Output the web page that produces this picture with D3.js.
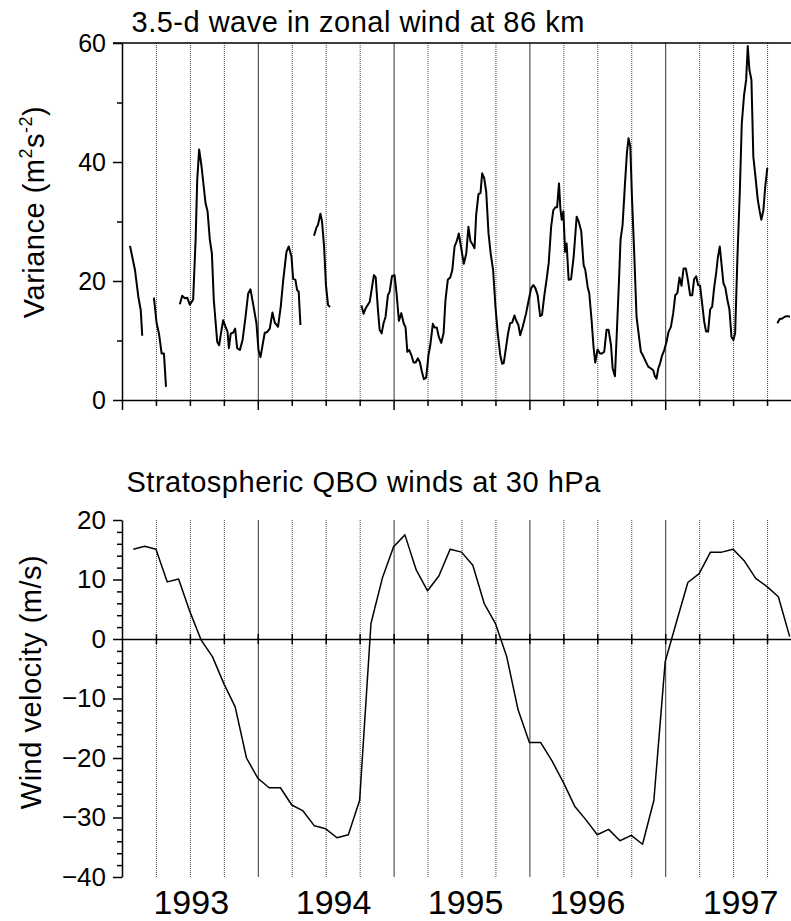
<!DOCTYPE html>
<html>
<head>
<meta charset="utf-8">
<script src="https://cdn.jsdelivr.net/npm/d3@7"></script>
<style>
  body { margin: 0; background: #fff; }
  svg { display: block; font-family: "Liberation Sans", Arial, sans-serif; }
</style>
</head>
<body>
<script>
// time is in years after 1 Jan 1993
// 3.5-day wave variance (m^2 s^-2), one array per data segment
var waveSeg1 = [[0.059,25.9],[0.096,21.8],[0.120,17.4],[0.138,15.1],[0.149,10.8]];
var waveSeg2 = [[0.235,17.2],[0.255,12.9],[0.272,11.2],[0.292,7.8],[0.309,7.8],[0.324,2.2]];
var waveSeg3 = [
  [0.426,16.1],[0.443,17.5],[0.463,17.1],[0.480,17.2],[0.500,16.0],[0.524,16.9],[0.542,26.9],
  [0.554,37.0],[0.568,42.1],[0.586,39.2],[0.615,33.1],[0.630,31.7],[0.647,26.9],[0.662,24.6],
  [0.676,16.8],[0.701,9.8],[0.715,9.2],[0.733,11.8],[0.745,13.4],[0.763,12.3],[0.777,11.5],
  [0.787,8.7],[0.801,11.2],[0.818,11.3],[0.833,12.0],[0.848,8.7],[0.868,8.4],[0.888,10.1],
  [0.910,14.0],[0.929,17.9],[0.946,18.6],[0.965,16.2],[0.990,12.9],[1.005,8.4],[1.020,7.2],
  [1.035,9.2],[1.051,11.3],[1.068,11.4],[1.088,12.0],[1.108,14.7],[1.125,13.0],[1.149,12.3],
  [1.169,15.7],[1.186,19.9],[1.211,24.9],[1.228,25.8],[1.248,24.1],[1.260,20.4],[1.277,20.2],
  [1.289,18.5],[1.301,18.2],[1.314,12.6]
];
var waveSeg4 = [[1.414,27.6],[1.432,29.0],[1.443,29.4],[1.461,31.3],[1.473,30.0],[1.488,25.8],
  [1.502,19.3],[1.517,16.0],[1.532,15.6]];
var waveSeg5 = [
  [1.763,15.9],[1.779,14.5],[1.794,15.4],[1.824,16.5],[1.840,18.8],[1.855,21.0],[1.868,20.6],
  [1.885,15.1],[1.897,11.8],[1.912,11.2],[1.926,12.9],[1.941,14.0],[1.958,17.6],[1.971,18.2],
  [1.988,20.8],[2.007,21.0],[2.022,17.9],[2.039,13.3],[2.057,14.6],[2.074,12.9],[2.088,12.2],
  [2.101,8.1],[2.115,8.4],[2.130,7.6],[2.147,6.3],[2.162,6.3],[2.179,7.0],[2.193,6.4],
  [2.208,4.8],[2.223,3.5],[2.240,3.8],[2.257,7.6],[2.270,9.2],[2.289,12.8],[2.301,12.2],
  [2.318,12.2],[2.333,10.6],[2.351,9.6],[2.368,11.2],[2.382,16.8],[2.399,20.2],[2.417,20.6],
  [2.432,21.8],[2.449,25.8],[2.465,26.7],[2.480,28.0],[2.498,25.5],[2.517,22.9],[2.535,24.6],
  [2.551,29.1],[2.566,26.7],[2.583,26.1],[2.596,25.5],[2.608,31.1],[2.625,34.6],[2.640,34.8],
  [2.652,38.1],[2.667,37.3],[2.682,35.0],[2.699,28.0],[2.715,24.6],[2.733,21.8],[2.750,15.7],
  [2.767,11.2],[2.785,7.6],[2.799,6.1],[2.811,6.2],[2.829,9.0],[2.843,11.2],[2.858,12.9],
  [2.873,13.0],[2.890,14.2],[2.902,13.4],[2.919,12.6],[2.932,10.9],[2.951,12.3],[2.976,14.6],
  [2.995,16.8],[3.013,18.8],[3.029,19.3],[3.044,18.8],[3.061,17.6],[3.079,14.1],[3.093,14.3],
  [3.110,17.6],[3.127,20.3],[3.142,23.0],[3.160,29.1],[3.176,31.9],[3.191,32.4],[3.204,32.4],
  [3.218,36.4],[3.228,32.2],[3.238,30.3],[3.250,31.7],[3.263,24.9],[3.274,26.3],[3.289,20.2],
  [3.307,20.3],[3.326,24.1],[3.348,30.8],[3.363,30.0],[3.382,28.3],[3.399,22.7],[3.412,21.8],
  [3.429,19.0],[3.441,17.9],[3.458,13.4],[3.473,8.7],[3.485,6.3],[3.502,8.5],[3.520,7.8],
  [3.535,7.8],[3.551,8.1],[3.568,11.8],[3.583,11.8],[3.601,9.2],[3.613,5.3],[3.630,4.0],
  [3.645,12.0],[3.660,20.2],[3.671,26.9],[3.686,29.4],[3.704,36.4],[3.718,41.5],[3.730,44.0],
  [3.743,42.6],[3.755,34.2],[3.772,24.6],[3.789,14.0],[3.804,11.2],[3.821,8.1],[3.840,7.3],
  [3.858,6.4],[3.875,5.6],[3.895,5.3],[3.912,5.0],[3.924,4.0],[3.936,3.6],[3.949,5.3],
  [3.963,6.2],[3.976,7.4],[3.993,8.4],[4.010,9.8],[4.024,11.4],[4.042,12.3],[4.059,14.6],
  [4.074,17.6],[4.090,18.0],[4.105,20.6],[4.120,19.2],[4.135,22.1],[4.152,22.1],[4.167,20.2],
  [4.184,17.6],[4.199,17.6],[4.213,20.3],[4.228,20.8],[4.243,19.3],[4.257,19.2],[4.272,16.2],
  [4.287,13.2],[4.301,11.5],[4.316,11.5],[4.331,15.2],[4.346,15.7],[4.360,18.8],[4.375,21.3],
  [4.388,24.0],[4.402,25.8],[4.414,23.0],[4.429,19.6],[4.443,18.9],[4.458,16.8],[4.473,15.2],
  [4.488,10.6],[4.502,10.1],[4.515,11.2],[4.532,24.1],[4.549,34.7],[4.564,46.5],[4.581,51.3],
  [4.596,53.8],[4.608,59.5],[4.620,55.5],[4.635,53.8],[4.649,40.9],[4.667,37.0],[4.682,33.6],
  [4.696,31.7],[4.708,30.3],[4.723,31.9],[4.737,35.9],[4.752,39.0]
];
var waveSeg6 = [[4.826,12.9],[4.843,13.6],[4.863,13.7],[4.880,14.0],[4.899,14.1],[4.919,14.0]];
var waveSegments = [waveSeg1, waveSeg2, waveSeg3, waveSeg4, waveSeg5, waveSeg6];

// monthly 30 hPa QBO wind (m/s), first value is Feb 1993
var qboFirstMonth = 1;
var qboWind = [15.1, 15.6, 15.1, 9.6, 10.1, 4.6, -0.2, -3.0, -7.5, -11.4,
  -20.0, -23.4, -25.0, -25.0, -27.9, -28.9, -31.4, -31.9, -33.4, -32.9,
  -27.1, 2.6, 10.2, 15.5, 17.5, 11.6, 8.1, 10.6, 15.1, 14.6,
  12.4, 6.0, 2.6, -3.0, -11.9, -17.4, -17.4, -20.5, -24.1, -28.1,
  -30.4, -32.9, -32.0, -33.9, -33.0, -34.5, -27.1, -3.8, 2.9, 9.5,
  11.0, 14.6, 14.6, 15.1, 13.1, 10.2, 8.8, 7.1, 0.4];

var yearNames = ["1993", "1994", "1995", "1996", "1997"];
var yearLabelAt = [0.506, 1.554, 2.526, 3.424, 4.551];
var varianceTicks = [0, 20, 40, 60];
var varianceMinor = [10, 30, 50];
var windTicks = [-40, -30, -20, -10, 0, 10, 20];

function init() {
    var w = 791, h = 921;
    var left = 122, right = 791;
    var pxPerYear = 135.8;

    var svg = d3.select("body").append("svg")
        .attr("width", w)
        .attr("height", h);

    var x = d3.scaleLinear()
        .domain([0, (right - left) / pxPerYear])
        .range([left, right]);
    var yTop = d3.scaleLinear().domain([0, 60]).range([400, 43]);
    var yBot = d3.scaleLinear().domain([-40, 20]).range([877, 520]);

    var quarters = d3.range(1, 20).map(function(i) { return i / 4; });
    var years = [1, 2, 3, 4];
    var offYear = quarters.filter(function(q) { return q % 1 !== 0; });

    // vertical grid lines: dotted each quarter, solid each year
    function grid(y0, y1) {
        var g = svg.append("g")
            .attr("transform", "translate(0," + y1 + ")")
            .call(d3.axisBottom(x).tickValues(quarters).tickSize(-(y1 - y0)).tickFormat(""));
        g.select(".domain").remove();
        g.selectAll(".tick line")
            .attr("stroke", function(d) { return d % 1 === 0 ? "#333" : "#444"; })
            .attr("stroke-width", 1)
            .attr("stroke-dasharray", function(d) { return d % 1 === 0 ? null : "1,1"; });
    }
    grid(43, 400);
    grid(520, 877);

    function styleAxis(g, size) {
        g.selectAll("path, line").attr("stroke", "#000").attr("stroke-width", 1.5);
        g.selectAll("text").attr("fill", "#000").style("font-size", size + "px")
            .style("font-family", '"Liberation Sans", Arial, sans-serif');
    }

    // ---------- top panel ----------
    svg.append("line")
        .attr("x1", left - 9).attr("x2", right)
        .attr("y1", yTop(60)).attr("y2", yTop(60))
        .attr("stroke", "#000").attr("stroke-width", 1.5);

    var bq = svg.append("g").attr("transform", "translate(0,400)")
        .call(d3.axisBottom(x).tickValues(offYear).tickSize(6).tickFormat("").tickSizeOuter(0));
    styleAxis(bq, 10);
    var by = svg.append("g").attr("transform", "translate(0,400)")
        .call(d3.axisBottom(x).tickValues([0].concat(years)).tickSize(10).tickFormat("").tickSizeOuter(0));
    by.select(".domain").remove();
    styleAxis(by, 10);

    var ly = svg.append("g").attr("transform", "translate(" + left + ",0)")
        .call(d3.axisLeft(yTop).tickValues(varianceTicks).tickSize(9).tickPadding(7).tickSizeOuter(0));
    styleAxis(ly, 25);
    var lm = svg.append("g").attr("transform", "translate(" + left + ",0)")
        .call(d3.axisLeft(yTop).tickValues(varianceMinor).tickSize(5).tickFormat(""));
    lm.select(".domain").remove();
    styleAxis(lm, 10);

    var waveLine = d3.line()
        .x(function(d) { return x(d[0]); })
        .y(function(d) { return yTop(d[1]); });
    svg.selectAll("path.wave")
        .data(waveSegments)
        .enter()
        .append("path")
        .attr("class", "wave")
        .attr("d", waveLine)
        .attr("fill", "none")
        .attr("stroke", "#000")
        .attr("stroke-width", 2)
        .attr("stroke-linejoin", "round");

    svg.append("text")
        .attr("x", 131.5).attr("y", 31.5)
        .style("font-size", "29px").style("letter-spacing", "0.5px")
        .text("3.5-d wave in zonal wind at 86 km");

    var vt = svg.append("text")
        .attr("transform", "translate(44,212) rotate(-90)")
        .attr("text-anchor", "middle")
        .style("font-size", "29px").style("letter-spacing", "0.5px");
    vt.append("tspan").text("Variance (m");
    vt.append("tspan").attr("dy", -12).style("font-size", "18px").text("2");
    vt.append("tspan").attr("dy", 12).text("s");
    vt.append("tspan").attr("dy", -12).style("font-size", "18px").text("-2");
    vt.append("tspan").attr("dy", 12).text(")");

    // ---------- bottom panel ----------
    var wl = svg.append("g").attr("transform", "translate(" + left + ",0)")
        .call(d3.axisLeft(yBot).tickValues(windTicks).tickSize(9).tickPadding(7).tickSizeOuter(0));
    styleAxis(wl, 26);
    var wm = svg.append("g").attr("transform", "translate(" + left + ",0)")
        .call(d3.axisLeft(yBot).tickValues(d3.range(-38, 20, 2).filter(function(v) { return v % 10 !== 0; }))
            .tickSize(5).tickFormat(""));
    wm.select(".domain").remove();
    styleAxis(wm, 10);

    // zero line with ticks on both sides
    var z1 = svg.append("g").attr("transform", "translate(0," + yBot(0) + ")")
        .call(d3.axisBottom(x).tickValues(quarters).tickSize(5).tickFormat("").tickSizeOuter(0));
    styleAxis(z1, 10);
    var z2 = svg.append("g").attr("transform", "translate(0," + yBot(0) + ")")
        .call(d3.axisTop(x).tickValues(quarters).tickSize(5).tickFormat("").tickSizeOuter(0));
    z2.select(".domain").remove();
    styleAxis(z2, 10);

    var qboLine = d3.line()
        .x(function(d, i) { return x((qboFirstMonth + i) / 12); })
        .y(function(d) { return yBot(d); });
    svg.append("path")
        .datum(qboWind)
        .attr("d", qboLine)
        .attr("fill", "none")
        .attr("stroke", "#000")
        .attr("stroke-width", 1.5)
        .attr("stroke-linejoin", "round");

    var yl = svg.append("g").attr("transform", "translate(0,877)")
        .call(d3.axisBottom(x).tickValues(yearLabelAt).tickSize(0)
            .tickFormat(function(d, i) { return yearNames[i]; }));
    yl.select(".domain").remove();
    styleAxis(yl, 34);
    yl.selectAll("text").attr("dy", null).attr("y", 37);

    svg.append("text")
        .attr("x", 126.5).attr("y", 492)
        .style("font-size", "29px").style("letter-spacing", "0.5px")
        .text("Stratospheric QBO winds at 30 hPa");

    svg.append("text")
        .attr("transform", "translate(41,682) rotate(-90)")
        .attr("text-anchor", "middle")
        .style("font-size", "29px").style("letter-spacing", "0.5px")
        .text("Wind velocity (m/s)");
}
window.onload = init;
</script>
</body>
</html>
